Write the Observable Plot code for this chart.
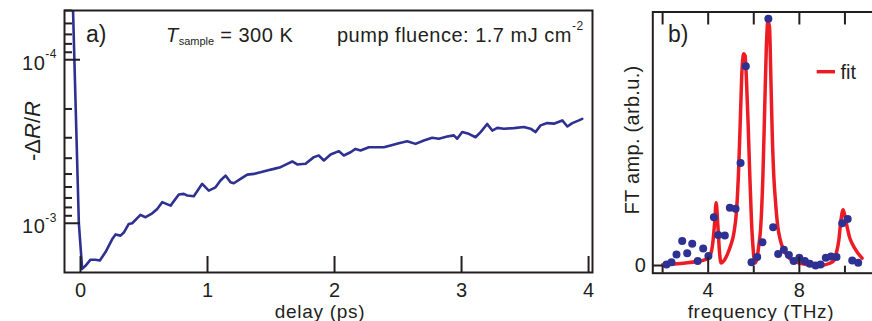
<!DOCTYPE html>
<html><head><meta charset="utf-8">
<script src="https://cdn.jsdelivr.net/npm/d3@7"></script>
<script src="https://cdn.jsdelivr.net/npm/@observablehq/plot@0.6"></script>
<style>
html,body{margin:0;padding:0;overflow:hidden;background:#fff;}
#wrap{position:relative;width:872px;height:321px;overflow:hidden;}
#pa{position:absolute;top:0;left:0;width:600px;height:321px;}
#pb{position:absolute;top:0;left:590px;width:290px;height:321px;}
</style></head><body><div id="wrap"><div id="pa"></div><div id="pb"></div></div>
<script>
// ---- panel a data: -dR/R vs delay (ps)
const delay = [-0.06, -0.013, 0.013, 0.039, 0.079, 0.118, 0.152, 0.197, 0.250, 0.276, 0.315, 0.341, 0.380, 0.407, 0.472, 0.512, 0.565, 0.604, 0.643, 0.709, 0.774, 0.813, 0.840, 0.892, 0.958, 1.010, 1.063, 1.102, 1.142, 1.181, 1.207, 1.260, 1.313, 1.365, 1.417, 1.470, 1.522, 1.575, 1.628, 1.667, 1.706, 1.772, 1.837, 1.876, 1.916, 1.969, 2.034, 2.073, 2.126, 2.165, 2.205, 2.270, 2.336, 2.388, 2.441, 2.506, 2.572, 2.638, 2.703, 2.769, 2.821, 2.887, 2.939, 2.966, 3.005, 3.057, 3.110, 3.150, 3.202, 3.242, 3.281, 3.333, 3.412, 3.491, 3.543, 3.583, 3.622, 3.675, 3.727, 3.793, 3.833, 3.872, 3.924, 3.950];
const signal = [4.6e-5, 1.0e-3, 1.90e-3, 1.82e-3, 1.67e-3, 1.67e-3, 1.69e-3, 1.50e-3, 1.25e-3, 1.17e-3, 1.19e-3, 1.14e-3, 1.01e-3, 1.0e-3, 8.89e-4, 9.18e-4, 8.69e-4, 8.17e-4, 7.43e-4, 7.80e-4, 6.67e-4, 6.61e-4, 6.76e-4, 6.84e-4, 5.74e-4, 6.31e-4, 6.03e-4, 5.48e-4, 5.11e-4, 5.61e-4, 5.69e-4, 5.35e-4, 5.04e-4, 4.99e-4, 4.88e-4, 4.75e-4, 4.65e-4, 4.54e-4, 4.33e-4, 4.19e-4, 4.37e-4, 4.33e-4, 3.94e-4, 3.85e-4, 4.13e-4, 3.80e-4, 3.62e-4, 3.85e-4, 3.68e-4, 3.51e-4, 3.59e-4, 3.43e-4, 3.43e-4, 3.43e-4, 3.34e-4, 3.24e-4, 3.15e-4, 3.27e-4, 3.12e-4, 3.00e-4, 3.04e-4, 2.95e-4, 2.90e-4, 3.04e-4, 2.77e-4, 2.84e-4, 2.98e-4, 2.77e-4, 2.47e-4, 2.71e-4, 2.61e-4, 2.64e-4, 2.62e-4, 2.58e-4, 2.64e-4, 2.77e-4, 2.52e-4, 2.44e-4, 2.46e-4, 2.35e-4, 2.56e-4, 2.44e-4, 2.35e-4, 2.30e-4];
const delayTicks = [0, 1, 2, 3, 4];
const signalMajorTicks = [1e-4, 1e-3];
const signalTickExps = ["-4", "-3"];
const signalMinorTicks = [5e-5, 6e-5, 7e-5, 8e-5, 9e-5, 2e-4, 3e-4, 4e-4, 5e-4, 6e-4, 7e-4, 8e-4, 9e-4];

// ---- panel b data: FT amplitude vs frequency (THz)
const ftFreq = [2.17, 2.39, 2.61, 2.86, 3.08, 3.30, 3.54, 3.78, 4.01, 4.25, 4.44, 4.73, 4.95, 5.20, 5.42, 5.65, 5.90, 6.15, 6.38, 6.64, 6.85, 7.07, 7.32, 7.54, 7.75, 8.00, 8.24, 8.46, 8.71, 8.93, 9.16, 9.39, 9.63, 9.88, 10.12, 10.32, 10.58];
const ftAmp = [0.004, 0.013, 0.045, 0.099, 0.050, 0.088, 0.018, 0.069, 0.039, 0.196, 0.124, 0.122, 0.234, 0.230, 0.415, 0.808, 0.013, 0.034, 0.094, 1.0, 0.155, 0.047, 0.064, 0.043, 0.018, 0.031, 0.018, 0.007, 0.0, 0.004, 0.031, 0.036, 0.034, 0.171, 0.188, 0.020, 0.011];
const fitFreq = [2.0, 2.5, 3.0, 3.5, 3.9, 4.1, 4.2, 4.28, 4.35, 4.42, 4.5, 4.57, 4.7, 4.85, 5.0, 5.12, 5.25, 5.34, 5.42, 5.49, 5.56, 5.62, 5.68, 5.75, 5.82, 5.9, 5.97, 6.05, 6.12, 6.22, 6.3, 6.4, 6.48, 6.55, 6.62, 6.69, 6.75, 6.81, 6.88, 6.95, 7.05, 7.17, 7.3, 7.46, 7.7, 7.9, 8.2, 8.5, 8.8, 9.07, 9.3, 9.51, 9.62, 9.73, 9.82, 9.92, 10.0, 10.1, 10.2, 10.32, 10.54, 10.75];
const fitAmp = [0.003, 0.006, 0.01, 0.016, 0.025, 0.045, 0.09, 0.17, 0.254, 0.17, 0.05, 0.01, 0.02, 0.047, 0.085, 0.128, 0.23, 0.398, 0.62, 0.804, 0.858, 0.85, 0.75, 0.58, 0.38, 0.18, 0.07, 0.01, 0.02, 0.08, 0.15, 0.36, 0.64, 0.88, 0.99, 0.966, 0.76, 0.534, 0.36, 0.263, 0.16, 0.101, 0.065, 0.041, 0.02, 0.013, 0.006, 0.002, 0.001, 0.002, 0.008, 0.02, 0.05, 0.101, 0.18, 0.226, 0.2, 0.155, 0.115, 0.088, 0.054, 0.03];
const freqMajorTicks = [4, 8];
const freqMinorTicks = [2, 6, 10];
const freqTopTicks = [2, 4, 6, 8, 10];
const ampTicks = [0];

const ink = "#231f20";
const blue = "#2e3192";
const red = "#ed1c24";
const FONT = "'Liberation Sans', Arial, Helvetica, sans-serif";
const baseStyle = {fontFamily: FONT, fontSize: "20px", color: ink, background: "transparent", maxWidth: "none", overflow: "visible"};

// ---------------- panel a
const sigData = delay.map((d, i) => ({d, v: signal[i]}));
const A = Plot.plot({
  width: 600, height: 321,
  marginLeft: 64, marginRight: 8, marginTop: 10, marginBottom: 49,
  style: baseStyle,
  x: {domain: [-0.126, 4.031]},
  y: {type: "log", domain: [2.0e-3, 5.0e-5]},
  marks: [
    Plot.line(sigData, {x: "d", y: "v", stroke: blue, strokeWidth: 2.6, clip: true}),
    Plot.axisX(delayTicks, {anchor: "bottom", tickSize: -16, strokeWidth: 2, stroke: ink, fill: "none"}),
    Plot.axisX(delayTicks, {anchor: "bottom", tickSize: 0, tickPadding: 10, label: null, fill: ink, tickFormat: d => String(d)}),
    Plot.axisY(signalMajorTicks, {anchor: "left", tickSize: -16, strokeWidth: 2, stroke: ink, fill: "none"}),
    Plot.axisY(signalMinorTicks, {anchor: "left", tickSize: -8, strokeWidth: 2, stroke: ink, fill: "none"}),
    Plot.frame({stroke: ink, strokeWidth: 2})
  ]
});
document.getElementById("pa").appendChild(A);
const yA = A.scale("y");
const sA = d3.select(A);
signalMajorTicks.forEach((v, i) => {
  const t = sA.append("text").attr("x", 57).attr("y", yA.apply(v) + 10.7)
    .attr("text-anchor", "end").attr("font-size", 20).attr("fill", ink).attr("letter-spacing", 0.5);
  t.append("tspan").text("10");
  t.append("tspan").attr("dy", -11.7).attr("font-size", 12).text(signalTickExps[i]);
});
// y label
{
  const t = sA.append("text").attr("transform", "translate(40,131) rotate(-90)")
    .attr("text-anchor", "middle").attr("font-size", 22).attr("fill", ink);
  t.append("tspan").text("-\u0394");
  t.append("tspan").attr("font-style", "italic").text("R");
  t.append("tspan").text("/");
  t.append("tspan").attr("font-style", "italic").text("R");
}
sA.append("text").attr("x", 320).attr("y", 318).attr("text-anchor", "middle")
  .attr("font-size", 19).attr("letter-spacing", 0.7).attr("fill", ink).text("delay (ps)");
sA.append("text").attr("x", 86).attr("y", 42).attr("text-anchor", "start").attr("font-size", 23).attr("fill", ink).text("a)");
{
  const t = sA.append("text").attr("x", 166).attr("y", 42).attr("text-anchor", "start").attr("font-size", 20).attr("fill", ink).attr("letter-spacing", 0.5);
  t.append("tspan").attr("font-style", "italic").text("T");
  t.append("tspan").attr("font-size", 11).attr("dy", 3).attr("letter-spacing", 0).text("sample");
  t.append("tspan").attr("dy", -3).text(" = 300 K");
}
{
  const t = sA.append("text").attr("x", 337).attr("y", 42).attr("text-anchor", "start").attr("font-size", 20).attr("fill", ink).attr("letter-spacing", 0.5);
  t.append("tspan").text("pump fluence: 1.7 mJ cm");
  t.append("tspan").attr("font-size", 12).attr("dy", -12).text("-2");
}

// ---------------- panel b
const ftData = ftFreq.map((f, i) => ({f, a: ftAmp[i]}));
const fitData = fitFreq.map((f, i) => ({f, a: fitAmp[i]}));
const B = Plot.plot({
  width: 290, height: 321,
  marginLeft: 62.3, marginRight: 0, marginTop: 11.5, marginBottom: 48.3,
  style: baseStyle,
  x: {domain: [1.57, 11.56]},
  y: {domain: [-0.0312, 1.0276]},
  marks: [
    Plot.line(fitData, {x: "f", y: "a", stroke: red, strokeWidth: 3.5, curve: "monotone-x", clip: true}),
    Plot.dot(ftData, {x: "f", y: "a", r: 4, fill: blue, stroke: "none"}),
    Plot.axisX(freqMajorTicks, {anchor: "bottom", tickSize: -16, strokeWidth: 2, stroke: ink, fill: "none"}),
    Plot.axisX(freqMinorTicks, {anchor: "bottom", tickSize: -7, strokeWidth: 2, stroke: ink, fill: "none"}),
    Plot.axisX(freqTopTicks, {anchor: "top", tickSize: -12, strokeWidth: 2, stroke: ink, fill: "none"}),
    Plot.axisX(freqMajorTicks, {anchor: "bottom", tickSize: 0, tickPadding: 10, label: null, fill: ink, tickFormat: d => String(d)}),
    Plot.axisY(ampTicks, {anchor: "left", tickSize: -10, strokeWidth: 2, stroke: ink, fill: "none"}),
    Plot.axisY(ampTicks, {anchor: "left", tickSize: 0, tickPadding: 7, label: null, fill: ink, tickFormat: d => String(d)}),
    Plot.frame({stroke: ink, strokeWidth: 2})
  ]
});
document.getElementById("pb").appendChild(B);
const sB = d3.select(B);
sB.append("text").attr("transform", "translate(49,140) rotate(-90)").attr("text-anchor", "middle")
  .attr("font-size", 20).attr("fill", ink).attr("letter-spacing", 0.3).text("FT amp. (arb.u.)");
sB.append("text").attr("x", 171).attr("y", 318).attr("text-anchor", "middle")
  .attr("font-size", 19).attr("letter-spacing", 0.7).attr("fill", ink).text("frequency (THz)");
sB.append("text").attr("x", 78).attr("y", 42).attr("text-anchor", "start").attr("font-size", 23).attr("fill", ink).text("b)");
// legend
sB.append("line").attr("x1", 226.7).attr("x2", 245).attr("y1", 71.7).attr("y2", 71.7)
  .attr("stroke", red).attr("stroke-width", 3.5);
sB.append("text").attr("x", 250.5).attr("y", 78.5).attr("text-anchor", "start").attr("font-size", 20).attr("fill", ink).text("fit");
</script></body></html>
